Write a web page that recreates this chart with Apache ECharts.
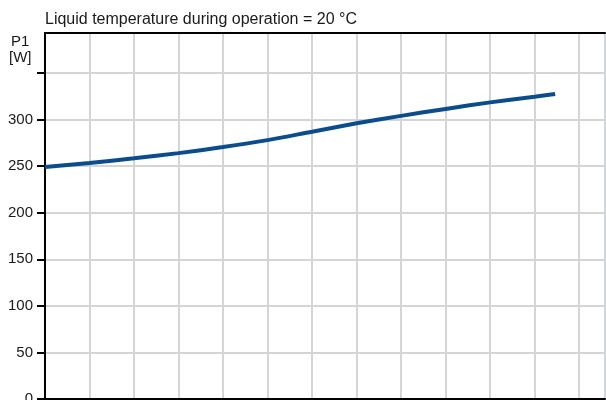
<!DOCTYPE html>
<html>
<head>
<meta charset="utf-8">
<script src="https://cdn.jsdelivr.net/npm/echarts@6/dist/echarts.min.js"></script>
<style>html,body{margin:0;padding:0;background:#fff}#c{width:606px;height:400px}</style>
</head>
<body>
<div id="c"></div>
<script>
var titleText = 'Liquid temperature during operation = 20 °C';
var yName = 'P1\n[W]';
var flow = [0, 1, 2, 3, 4, 5, 6, 7, 8, 9, 10, 11, 11.46];
var power = [249, 253.5, 258.5, 264, 270.5, 278, 287, 296, 304, 311.5, 318.5, 324.5, 327.5];
var yLabelMax = 300;

var chart = echarts.init(document.getElementById('c'));
var pts = flow.map(function (x, i) { return [x, power[i]]; });
chart.setOption({
  animation: false,
  backgroundColor: '#fff',
  title: {
    text: titleText, left: 40, top: 7,
    textStyle: { fontFamily: 'Liberation Sans, Arial', fontSize: 16, fontWeight: 'normal', color: '#1a1a1a' }
  },
  graphic: [{
    type: 'text', left: 9, top: 34,
    style: { text: yName, font: '15px "Liberation Sans", Arial', fill: '#1a1a1a', textAlign: 'center', lineHeight: 16, x: 0 }
  }],
  grid: { left: 45, right: 1, top: 33, bottom: 1, outerBoundsMode: 'none', containLabel: false },
  xAxis: [{
    type: 'value', min: 0, max: 12.58, interval: 1,
    axisLine: { show: true, lineStyle: { color: '#000', width: 2 } },
    axisTick: { show: false },
    axisLabel: { show: false },
    splitLine: { show: true, lineStyle: { color: '#d3d5d7', width: 2 } }
  }, {
    type: 'value', position: 'top', min: 0, max: 12.58,
    axisLine: { show: true, onZero: false, lineStyle: { color: '#000', width: 2 } },
    axisTick: { show: false }, axisLabel: { show: false }, splitLine: { show: false }
  }],
  yAxis: {
    type: 'value', min: 0, max: 393, interval: 50,
    axisLine: { show: true, lineStyle: { color: '#000', width: 2 } },
    axisTick: { show: true, length: 8, lineStyle: { color: '#000', width: 2 } },
    axisLabel: {
      margin: 12, fontFamily: 'Liberation Sans, Arial', fontSize: 15, color: '#1a1a1a',
      showMaxLabel: false,
      formatter: function (v) { return v <= yLabelMax ? String(v) : ''; }
    },
    splitLine: { show: true, lineStyle: { color: '#d3d5d7', width: 2 } }
  },
  series: [{
    type: 'line', xAxisIndex: 0, data: pts, smooth: 0.3, symbol: 'none',
    lineStyle: { color: '#0b4d8c', width: 4 }
  }]
});
</script>
</body>
</html>
